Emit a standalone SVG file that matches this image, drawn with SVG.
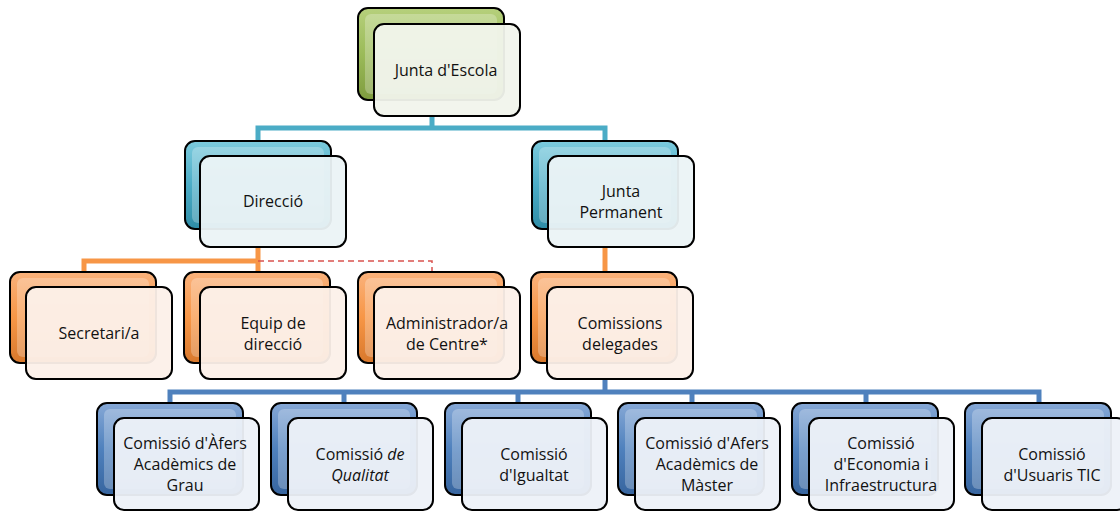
<svg xmlns="http://www.w3.org/2000/svg" width="1120" height="511" viewBox="0 0 1120 511">
<style>
.back{stroke:#000;stroke-width:2}
.front{stroke:#000;stroke-width:2}
.hl{fill:#fff;opacity:0.25}
.t{font-family:"Open Sans","Liberation Sans",sans-serif;font-size:16px;fill:#111;text-anchor:middle}
.c{fill:none;stroke-width:5}
</style>
<defs>
<linearGradient id="gG" x1="0" y1="0" x2="0" y2="1"><stop offset="0" stop-color="#b6d07c"/><stop offset="0.5" stop-color="#9bbb59"/><stop offset="1" stop-color="#7f9c3f"/></linearGradient>
<linearGradient id="gT" x1="0" y1="0" x2="0" y2="1"><stop offset="0" stop-color="#7ccbdd"/><stop offset="0.5" stop-color="#4bacc6"/><stop offset="1" stop-color="#2f8da7"/></linearGradient>
<linearGradient id="gO" x1="0" y1="0" x2="0" y2="1"><stop offset="0" stop-color="#fab27c"/><stop offset="0.5" stop-color="#f79646"/><stop offset="1" stop-color="#d8782c"/></linearGradient>
<linearGradient id="gB" x1="0" y1="0" x2="0" y2="1"><stop offset="0" stop-color="#86a8d6"/><stop offset="0.5" stop-color="#4f81bd"/><stop offset="1" stop-color="#37659f"/></linearGradient>
</defs>
<g id="connectors">
<path class="c" stroke="#4bacc6" d="M432,115 V128 M258,141 V128 H605 V141"/>
<path class="c" stroke="#f79646" d="M258,247 V272 M84,272 V261 H258"/>
<path d="M258,261 H432 V272" fill="none" stroke="#d9534f" stroke-width="1.5" stroke-dasharray="6,4"/>
<path class="c" stroke="#f79646" d="M605,247 V272"/>
<path class="c" stroke="#4f81bd" d="M605,380 V392 M170,403 V392 H1039 V403 M344,392 V403 M518,392 V403 M692,392 V403 M866,392 V403"/>
</g>
<g id="n-escola">
<rect class="back" x="358" y="8" width="146" height="92" rx="10" fill="url(#gG)"/>
<rect class="hl" x="365" y="14" width="132" height="80" rx="6"/>
<rect class="front" x="374" y="24" width="146" height="92" rx="10" fill="#f1f4ec" fill-opacity="0.95"/>
<text class="t" x="446" y="76">Junta d'Escola</text>
</g>
<g id="n-direccio">
<rect class="back" x="185" y="141" width="146" height="88" rx="10" fill="url(#gT)"/>
<rect class="hl" x="192" y="147" width="132" height="76" rx="6"/>
<rect class="front" x="200" y="156" width="146" height="91" rx="10" fill="#ebf3f6" fill-opacity="0.95"/>
<text class="t" x="273" y="207">Direcció</text>
</g>
<g id="n-permanent">
<rect class="back" x="532" y="141" width="146" height="88" rx="10" fill="url(#gT)"/>
<rect class="hl" x="539" y="147" width="132" height="76" rx="6"/>
<rect class="front" x="548" y="156" width="146" height="91" rx="10" fill="#ebf3f6" fill-opacity="0.95"/>
<text class="t" x="621" y="197">Junta</text>
<text class="t" x="621" y="218">Permanent</text>
</g>
<g id="n-secretari">
<rect class="back" x="10" y="272" width="146" height="91" rx="10" fill="url(#gO)"/>
<rect class="hl" x="17" y="278" width="132" height="79" rx="6"/>
<rect class="front" x="26" y="287" width="146" height="92" rx="10" fill="#fcf0e9" fill-opacity="0.95"/>
<text class="t" x="99" y="339">Secretari/a</text>
</g>
<g id="n-equip">
<rect class="back" x="184" y="272" width="146" height="91" rx="10" fill="url(#gO)"/>
<rect class="hl" x="191" y="278" width="132" height="79" rx="6"/>
<rect class="front" x="200" y="287" width="146" height="92" rx="10" fill="#fcf0e9" fill-opacity="0.95"/>
<text class="t" x="273" y="329">Equip de</text>
<text class="t" x="273" y="350">direcció</text>
</g>
<g id="n-admin">
<rect class="back" x="358" y="272" width="146" height="91" rx="10" fill="url(#gO)"/>
<rect class="hl" x="365" y="278" width="132" height="79" rx="6"/>
<rect class="front" x="374" y="287" width="146" height="92" rx="10" fill="#fcf0e9" fill-opacity="0.95"/>
<text class="t" x="447" y="329">Administrador/a</text>
<text class="t" x="447" y="350">de Centre*</text>
</g>
<g id="n-comissions">
<rect class="back" x="531" y="272" width="146" height="91" rx="10" fill="url(#gO)"/>
<rect class="hl" x="538" y="278" width="132" height="79" rx="6"/>
<rect class="front" x="547" y="287" width="146" height="92" rx="10" fill="#fcf0e9" fill-opacity="0.95"/>
<text class="t" x="620" y="329">Comissions</text>
<text class="t" x="620" y="350">delegades</text>
</g>
<g id="n-grau">
<rect class="back" x="97" y="403" width="146" height="92" rx="10" fill="url(#gB)"/>
<rect class="hl" x="104" y="409" width="132" height="80" rx="6"/>
<rect class="front" x="114" y="418" width="145" height="92" rx="10" fill="#edf1f8" fill-opacity="0.95"/>
<text class="t" x="185" y="449">Comissió d'Àfers</text>
<text class="t" x="185" y="470">Acadèmics de</text>
<text class="t" x="185" y="491">Grau</text>
</g>
<g id="n-qualitat">
<rect class="back" x="271" y="403" width="146" height="92" rx="10" fill="url(#gB)"/>
<rect class="hl" x="278" y="409" width="132" height="80" rx="6"/>
<rect class="front" x="288" y="418" width="145" height="92" rx="10" fill="#edf1f8" fill-opacity="0.95"/>
<text class="t" x="360" y="460">Comissió <tspan font-style="italic">de</tspan></text>
<text class="t" x="360" y="481" font-style="italic">Qualitat</text>
</g>
<g id="n-igualtat">
<rect class="back" x="445" y="403" width="146" height="92" rx="10" fill="url(#gB)"/>
<rect class="hl" x="452" y="409" width="132" height="80" rx="6"/>
<rect class="front" x="462" y="418" width="145" height="92" rx="10" fill="#edf1f8" fill-opacity="0.95"/>
<text class="t" x="534" y="460">Comissió</text>
<text class="t" x="534" y="481">d'Igualtat</text>
</g>
<g id="n-master">
<rect class="back" x="618" y="403" width="146" height="92" rx="10" fill="url(#gB)"/>
<rect class="hl" x="625" y="409" width="132" height="80" rx="6"/>
<rect class="front" x="635" y="418" width="145" height="92" rx="10" fill="#edf1f8" fill-opacity="0.95"/>
<text class="t" x="707" y="449">Comissió d'Afers</text>
<text class="t" x="707" y="470">Acadèmics de</text>
<text class="t" x="707" y="491">Màster</text>
</g>
<g id="n-economia">
<rect class="back" x="792" y="403" width="146" height="92" rx="10" fill="url(#gB)"/>
<rect class="hl" x="799" y="409" width="132" height="80" rx="6"/>
<rect class="front" x="809" y="418" width="145" height="92" rx="10" fill="#edf1f8" fill-opacity="0.95"/>
<text class="t" x="881" y="449">Comissió</text>
<text class="t" x="881" y="470">d'Economia i</text>
<text class="t" x="881" y="491">Infraestructura</text>
</g>
<g id="n-tic">
<rect class="back" x="965" y="403" width="146" height="92" rx="10" fill="url(#gB)"/>
<rect class="hl" x="972" y="409" width="132" height="80" rx="6"/>
<rect class="front" x="982" y="418" width="145" height="92" rx="10" fill="#edf1f8" fill-opacity="0.95"/>
<text class="t" x="1052" y="460">Comissió</text>
<text class="t" x="1052" y="481">d'Usuaris TIC</text>
</g>
</svg>
